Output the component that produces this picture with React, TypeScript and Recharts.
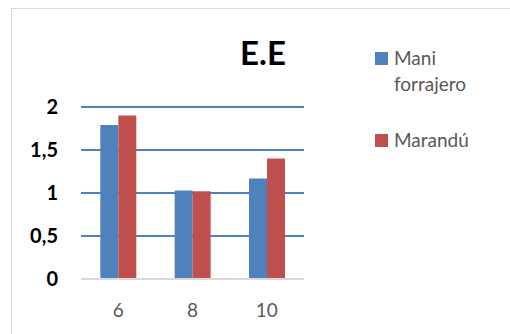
import { BarChart, Bar, XAxis, YAxis, CartesianGrid, Legend } from "recharts";

const categories = ["6", "8", "10"];
const maniForrajero = [1.79, 1.03, 1.17];
const marandu = [1.9, 1.02, 1.4];
const yTicks = [0, 0.5, 1, 1.5, 2];

const data = categories.map((c, i) => ({ cat: c, mani: maniForrajero[i], marandu: marandu[i] }));

const FONT = "Lato, 'Open Sans', sans-serif";
const fmt = (v: number) => String(v).replace(".", ",");

function LegendBox({ payload }: any) {
  return (
    <div style={{ fontFamily: FONT, fontSize: 19, color: "#595959", lineHeight: "26px" }}>
      {(payload || []).map((p: any, i: number) => (
        <div key={p.value} style={{ display: "flex", alignItems: "flex-start", marginBottom: i === 0 ? 30 : 0 }}>
          <span style={{ width: 13, height: 13, background: p.color, marginTop: 7, marginRight: 6, flex: "none" }} />
          <span style={{ width: 95 }}>{p.value}</span>
        </div>
      ))}
    </div>
  );
}

export default function App() {
  return (
    <div style={{ position: "absolute", left: 0, top: 0, width: 510, height: 334, background: "#fff", overflow: "hidden" }}>
      <div style={{ position: "absolute", left: 11, top: 8, right: -10, bottom: -10, border: "1px solid #d9d9d9" }} />
      <div
        style={{
          position: "absolute", left: 213, top: 36, width: 100, textAlign: "center",
          fontFamily: FONT, fontWeight: 700, fontSize: 33, lineHeight: "33px", color: "#000",
        }}
      >
        E.E
      </div>
      <BarChart
        width={510}
        height={334}
        data={data}
        margin={{ top: 107, right: 206, bottom: 25, left: 0 }}
        barCategoryGap="26%"
        barGap={0}
        style={{ position: "absolute", left: 0, top: 0 }}
      >
        <CartesianGrid horizontal vertical={false} stroke="#4F81BD" strokeWidth={2} />
        <XAxis
          dataKey="cat"
          height={30}
          tickSize={0}
          tickMargin={25}
          axisLine={{ stroke: "#d9d9d9", strokeWidth: 2 }}
          tick={{ fill: "#595959", fontSize: 19, fontFamily: FONT }}
        />
        <YAxis
          width={81}
          domain={[0, 2]}
          ticks={yTicks}
          interval={0}
          tickFormatter={fmt}
          tickSize={0}
          tickMargin={23}
          axisLine={false}
          tick={{ fill: "#000", fontSize: 20, fontWeight: 700, fontFamily: FONT }}
        />
        <Legend
          layout="vertical"
          align="center"
          verticalAlign="middle"
          wrapperStyle={{ top: 45, left: 375, width: 135 }}
          content={<LegendBox />}
        />
        <Bar dataKey="mani" name="Mani forrajero" fill="#4F81BD" isAnimationActive={false} />
        <Bar dataKey="marandu" name="Marandú" fill="#C0504D" isAnimationActive={false} />
      </BarChart>
    </div>
  );
}
